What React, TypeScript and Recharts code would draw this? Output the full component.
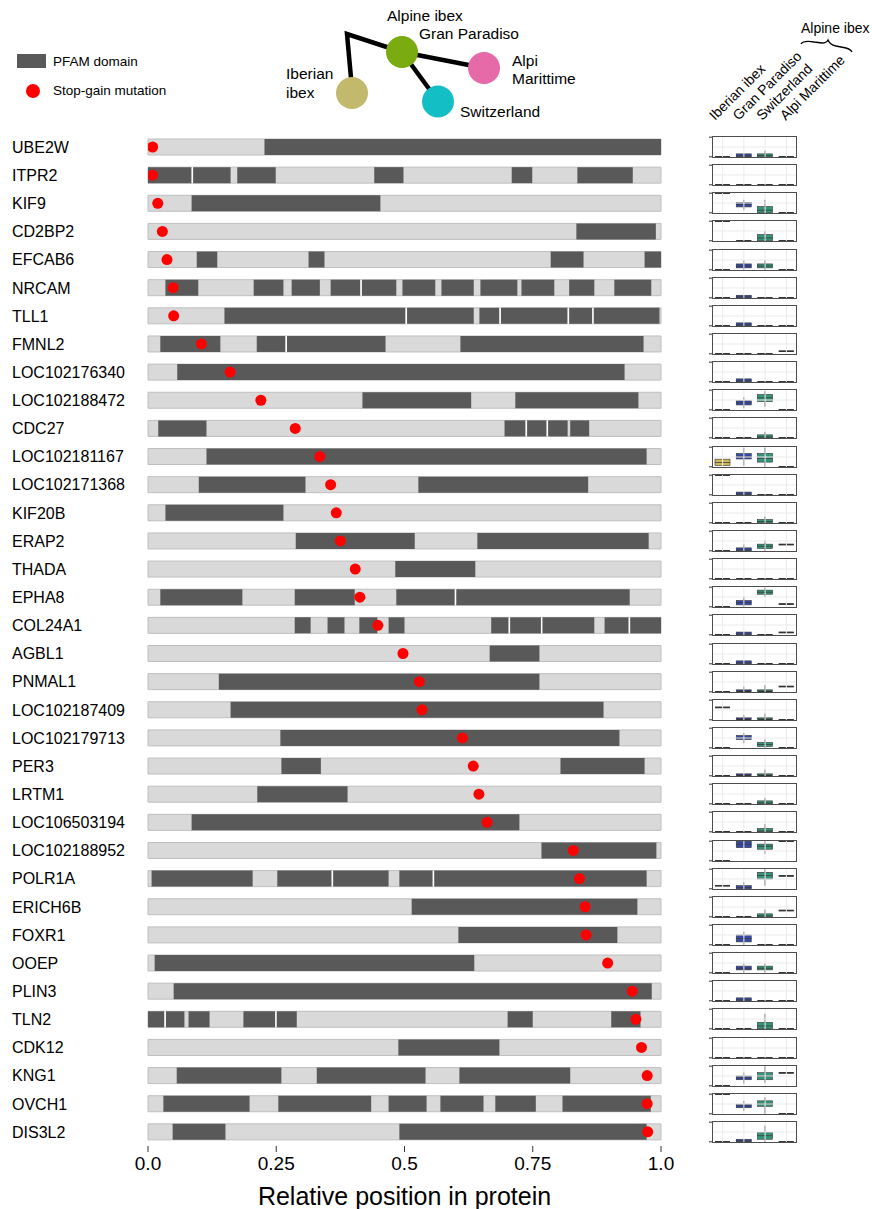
import React from 'react';
import { ComposedChart, Bar, XAxis, YAxis, Cell, ReferenceLine } from 'recharts';

const FONT = '"Liberation Sans", Arial, Helvetica, sans-serif';

// ---- data ----
const genes = [
  'UBE2W', 'ITPR2', 'KIF9', 'CD2BP2', 'EFCAB6', 'NRCAM', 'TLL1', 'FMNL2', 'LOC102176340',
  'LOC102188472', 'CDC27', 'LOC102181167', 'LOC102171368', 'KIF20B', 'ERAP2', 'THADA', 'EPHA8',
  'COL24A1', 'AGBL1', 'PNMAL1', 'LOC102187409', 'LOC102179713', 'PER3', 'LRTM1', 'LOC106503194',
  'LOC102188952', 'POLR1A', 'ERICH6B', 'FOXR1', 'OOEP', 'PLIN3', 'TLN2', 'CDK12', 'KNG1', 'OVCH1',
  'DIS3L2',
];

// relative position of the stop-gain mutation
const stopGain = [
  0.009, 0.009, 0.019, 0.028, 0.037, 0.049, 0.05, 0.104, 0.16, 0.22, 0.287, 0.335, 0.356, 0.367,
  0.375, 0.404, 0.413, 0.448, 0.497, 0.529, 0.534, 0.613, 0.634, 0.645, 0.661, 0.829, 0.841, 0.852,
  0.854, 0.896, 0.944, 0.951, 0.962, 0.973, 0.973, 0.974,
];

// PFAM domains [start, end] in relative protein coordinates
const pfamDomains: number[][][] = [
  [[0.227, 1.0]],
  [[0, 0.085], [0.088, 0.161], [0.174, 0.249], [0.441, 0.498], [0.709, 0.749], [0.837, 0.945]],
  [[0.085, 0.453]],
  [[0.835, 0.99]],
  [[0.095, 0.135], [0.313, 0.344], [0.785, 0.849], [0.968, 1.0]],
  [[0.034, 0.098], [0.206, 0.264], [0.28, 0.335], [0.356, 0.414], [0.417, 0.484], [0.496, 0.56],
    [0.572, 0.635], [0.648, 0.72], [0.728, 0.792], [0.821, 0.87], [0.909, 0.981]],
  [[0.149, 0.502], [0.505, 0.635], [0.646, 0.685], [0.688, 0.818], [0.821, 0.866], [0.869, 0.997]],
  [[0.024, 0.141], [0.212, 0.268], [0.271, 0.463], [0.609, 0.966]],
  [[0.057, 0.929]],
  [[0.418, 0.63], [0.716, 0.956]],
  [[0.02, 0.114], [0.695, 0.736], [0.739, 0.777], [0.78, 0.818], [0.823, 0.86]],
  [[0.114, 0.972]],
  [[0.099, 0.307], [0.527, 0.858]],
  [[0.034, 0.264]],
  [[0.288, 0.52], [0.642, 0.976]],
  [[0.482, 0.638]],
  [[0.024, 0.184], [0.286, 0.403], [0.484, 0.598], [0.601, 0.939]],
  [[0.286, 0.317], [0.35, 0.383], [0.412, 0.447], [0.469, 0.5], [0.669, 0.703], [0.706, 0.766],
    [0.769, 0.87], [0.89, 0.937], [0.94, 1.0]],
  [[0.666, 0.763]],
  [[0.138, 0.763]],
  [[0.161, 0.888]],
  [[0.258, 0.919]],
  [[0.26, 0.337], [0.804, 0.968]],
  [[0.213, 0.389]],
  [[0.085, 0.724]],
  [[0.767, 0.991]],
  [[0.007, 0.204], [0.252, 0.358], [0.361, 0.469], [0.49, 0.555], [0.558, 0.972]],
  [[0.514, 0.954]],
  [[0.605, 0.915]],
  [[0.013, 0.636]],
  [[0.05, 0.982]],
  [[0, 0.032], [0.035, 0.071], [0.079, 0.12], [0.186, 0.248], [0.251, 0.29], [0.701, 0.75],
    [0.903, 0.96]],
  [[0.488, 0.685]],
  [[0.056, 0.26], [0.329, 0.541], [0.607, 0.823]],
  [[0.03, 0.198], [0.254, 0.435], [0.469, 0.543], [0.57, 0.654], [0.677, 0.756], [0.808, 0.98]],
  [[0.048, 0.151], [0.49, 0.972]],
];

const populations = ['Iberian ibex', 'Gran Paradiso', 'Switzerland', 'Alpi Marittime'];

// per gene: single value, or [min, q1, median, q3, max]
type Stat = number | number[];
const iberianIbex: Stat[] = [
  0, 0, 1, 1, 0, 0, 0, 0, 0, 0, 0, [0.07, 0.07, 0.22, 0.39, 0.39], 1, 0, 0, 0, 0, 0, 0, 0, 0.63,
  0, 0, 0, 0, 0, 0.16, 0, 0, 0, 0, 0, 0, 0, 1, 0,
];
const granParadiso: Stat[] = [
  [0, 0, 0.05, 0.15, 0.15], 0, [0.15, 0.3, 0.42, 0.52, 0.66], 0, [0, 0.1, 0.2, 0.3, 0.49],
  [0, 0, 0.05, 0.13, 0.13], [0, 0, 0.05, 0.15, 0.15], 0, [0, 0, 0.05, 0.15, 0.15],
  [0.08, 0.25, 0.36, 0.46, 0.64], 0, [0.05, 0.4, 0.54, 0.68, 0.97], [0, 0, 0.05, 0.14, 0.14], 0,
  [0, 0, 0.05, 0.15, 0.32], 0, [0, 0.1, 0.22, 0.32, 0.51], [0, 0, 0.05, 0.14, 0.14],
  [0, 0, 0.05, 0.15, 0.15], [0, 0, 0.04, 0.1, 0.27], [0, 0, 0.04, 0.1, 0.25],
  [0.24, 0.42, 0.53, 0.63, 0.75], [0, 0, 0.04, 0.1, 0.1], 0, 0, [0.67, 0.67, 0.85, 1, 1],
  [0, 0, 0.06, 0.16, 0.34], 0, [0, 0.15, 0.32, 0.5, 0.66], [0, 0.15, 0.24, 0.34, 0.48],
  [0, 0, 0.05, 0.15, 0.15], 0, 0, [0.11, 0.31, 0.41, 0.5, 0.67], [0.15, 0.31, 0.41, 0.49, 0.66],
  [0, 0, 0.05, 0.13, 0.13],
];
const switzerland: Stat[] = [
  [0, 0, 0.07, 0.15, 0.3], 0, [0, 0, 0.14, 0.32, 0.66], [0, 0, 0.15, 0.32, 0.5],
  [0, 0.1, 0.2, 0.3, 0.49], 0, 0, 0, 0, [0.15, 0.42, 0.61, 0.78, 0.95], [0, 0, 0.05, 0.15, 0.3],
  [0, 0.24, 0.44, 0.68, 0.98], 0, [0, 0, 0.07, 0.17, 0.32], [0, 0.12, 0.24, 0.34, 0.53], 0,
  [0.51, 0.64, 0.75, 0.85, 0.98], 0, 0, [0, 0, 0.04, 0.1, 0.34], [0, 0, 0.04, 0.1, 0.32],
  [0, 0.07, 0.17, 0.27, 0.44], [0, 0, 0.04, 0.1, 0.32], [0, 0, 0.05, 0.15, 0.3],
  [0, 0, 0.05, 0.17, 0.4], [0.36, 0.59, 0.75, 0.85, 1], [0.16, 0.5, 0.68, 0.84, 1],
  [0, 0, 0.05, 0.15, 0.37], 0, [0, 0.15, 0.24, 0.34, 0.48], 0, [0, 0, 0.15, 0.33, 0.77], 0,
  [0.15, 0.31, 0.49, 0.67, 1], [0, 0.38, 0.51, 0.66, 0.84], [0, 0.13, 0.31, 0.48, 0.82],
];
const alpiMarittime: Stat[] = [
  0, 0, 0, 0, 0, 0, 0, 0.13, 0, 0, 0, 0, 0, 0, 0.32, 0, 0.14, 0.12, 0, 0.27, 0, 0, 0, 0, 0, 1,
  0.66, 0.32, 0, 0, 0, 0, 0, 0.66, 0, 0,
];
const popStats = [iberianIbex, granParadiso, switzerland, alpiMarittime];

const xTicks = [0, 0.25, 0.5, 0.75, 1];

// ---- styles / layout ----
const DOMAIN_FILL = '#595959';
const PROTEIN_FILL = '#d9d9d9';
const PROTEIN_EDGE = '#bfbfbf';
const STOP_RED = '#ff0000';
const BOX_COLORS = ['#cdb95a', '#3549a8', '#35947a', '#555555'];
const LINE_DARK = '#333333';

const W = 872;
const H = 1209;
const MAIN_W = 680;
const X_AXIS_H = 63;
const Y_AXIS_W = 140;
const MAIN_MARGIN = { top: 133, right: 19, bottom: 0, left: 8 };
const ROW_H = (H - MAIN_MARGIN.top - MAIN_MARGIN.bottom - X_AXIS_H) / genes.length;
const PANEL_X = 712;
const PANEL_W = 85;
const PANEL_H = 22;

// build stacked segments: gaps (transparent / white separator) and domains
type Seg = { len: number; kind: 'gap' | 'sep' | 'dom' };
const segments: Seg[][] = pfamDomains.map((doms) => {
  const out: Seg[] = [];
  let pos = 0;
  doms.forEach(([a, b]) => {
    if (a > pos) out.push({ len: a - pos, kind: a - pos < 0.0045 ? 'sep' : 'gap' });
    out.push({ len: b - a, kind: 'dom' });
    pos = b;
  });
  return out;
});
const segCount = Math.max(...segments.map((s) => s.length));
const segKeys = Array.from({ length: segCount }, (_, k) => `s${k}`);

const rows = genes.map((gene, i) => {
  const r: Record<string, number | string> = { gene, stop: stopGain[i] };
  segKeys.forEach((k, si) => {
    r[k] = segments[i][si] ? segments[i][si].len : 0;
  });
  return r;
});

const segFill = (gi: number, si: number) => {
  const s = segments[gi][si];
  if (!s) return 'none';
  if (s.kind === 'dom') return DOMAIN_FILL;
  if (s.kind === 'sep') return '#ffffff';
  return 'none';
};

const toStats = (s: Stat) => (typeof s === 'number' ? [s, s, s, s, s] : s);

// ---- shapes ----
const StopDot = (p: any) => (
  <circle cx={p.x + p.width} cy={p.y + p.height / 2} r={5.5} fill={STOP_RED} />
);

const Whisker = (p: any) => {
  if (!(p.height > 0)) return null;
  const cx = p.x + p.width / 2;
  return <line x1={cx} x2={cx} y1={p.y} y2={p.y + p.height} stroke={LINE_DARK} strokeWidth={1} />;
};

const BoxPart = (p: any) => {
  if (!(p.height > 0.8)) {
    const y = p.y + (p.height > 0 ? p.height / 2 : 0);
    return <rect x={p.x} y={y - 0.7} width={p.width} height={1.4} fill={LINE_DARK} />;
  }
  return (
    <rect x={p.x} y={p.y} width={p.width} height={p.height} fill={BOX_COLORS[p.index]}
      stroke={LINE_DARK} strokeWidth={0.6} />
  );
};

const GeneTick = (p: any) => (
  <text x={12} y={p.y} dy="0.36em" fontSize={16} fill="#000" textAnchor="start">
    {p.payload.value}
  </text>
);

const fmtX = (v: number) => (v === 0 ? '0.0' : v === 1 ? '1.0' : String(v));

function BoxPanel({ gi }: { gi: number }) {
  const data = populations.map((pop, k) => {
    const [lo, q1, med, q3, hi] = toStats(popStats[k][gi]);
    return { pop, lo, w1: q1 - lo, b1: med - q1, b2: q3 - med, w2: hi - q3 };
  });
  const top = MAIN_MARGIN.top + (gi + 0.5) * ROW_H - PANEL_H / 2;
  return (
    <>
      <div style={{ position: 'absolute', left: PANEL_X - 4, top }}>
        <ComposedChart width={PANEL_W + 4} height={PANEL_H} data={data}
          margin={{ top: 0, right: 0, bottom: 0, left: 0 }} barSize={15}>
          <XAxis dataKey="pop" type="category" hide />
          <YAxis type="number" domain={[-0.06, 1.06]} ticks={[0, 1]} tickFormatter={() => ''}
            width={4} tickSize={3} axisLine={false} tickLine={{ stroke: LINE_DARK }} />
          {populations.map((p) => (
            <ReferenceLine key={p} x={p} stroke="#ebebeb" />
          ))}
          <ReferenceLine y={0.5} stroke="#ebebeb" />
          <Bar dataKey="lo" stackId="b" fill="none" isAnimationActive={false} />
          <Bar dataKey="w1" stackId="b" shape={Whisker} isAnimationActive={false} />
          <Bar dataKey="b1" stackId="b" shape={BoxPart} isAnimationActive={false} />
          <Bar dataKey="b2" stackId="b" shape={BoxPart} isAnimationActive={false} />
          <Bar dataKey="w2" stackId="b" shape={Whisker} isAnimationActive={false} />
        </ComposedChart>
      </div>
      <div style={{
        position: 'absolute', left: PANEL_X, top, width: PANEL_W, height: PANEL_H,
        border: '1px solid #4d4d4d', boxSizing: 'border-box', pointerEvents: 'none',
      }} />
    </>
  );
}

const Header = () => (
  <svg width={W} height={130} style={{ position: 'absolute', left: 0, top: 0 }}>
    {/* legend */}
    <rect x={17} y={54} width={29} height={14} fill={DOMAIN_FILL} />
    <text x={53} y={66} fontSize={13.5} fill="#000">PFAM domain</text>
    <circle cx={33} cy={91} r={7} fill={STOP_RED} />
    <text x={53} y={95} fontSize={13.5} fill="#000">Stop-gain mutation</text>
    {/* population tree */}
    <g stroke="#000" strokeWidth={4.5} fill="none">
      <polyline points="351,78 347,34 402,52" strokeLinejoin="miter" />
      <line x1={402} y1={52} x2={484} y2={68} />
      <line x1={402} y1={52} x2={438} y2={101} />
    </g>
    <circle cx={352} cy={93} r={16} fill="#c2b96c" />
    <circle cx={402} cy={52} r={16} fill="#7aac12" />
    <circle cx={484} cy={68} r={16} fill="#e66aa8" />
    <circle cx={438} cy={101.5} r={16} fill="#13bfc4" />
    <g fontSize={15.5} fill="#000">
      <text x={387} y={21}>Alpine ibex</text>
      <text x={419} y={39}>Gran Paradiso</text>
      <text x={286} y={79}>Iberian</text>
      <text x={286} y={98}>ibex</text>
      <text x={512} y={66}>Alpi</text>
      <text x={512} y={84}>Marittime</text>
      <text x={460} y={117}>Switzerland</text>
    </g>
    {/* boxplot column labels */}
    {populations.map((p, k) => (
      <text key={p} fontSize={14} fill="#000"
        transform={`translate(${715 + k * 23.6},121) rotate(-45)`}>
        {p}
      </text>
    ))}
    <text x={801} y={33} fontSize={14} fill="#000">Alpine ibex</text>
    <path d="M801,44 C803,41 808,41 814,42 L822,43 C825,43 827,42 828,40 C829,43 832,45 836,46 L846,48 C850,49 851,50 852,52"
      stroke="#000" strokeWidth={1.3} fill="none" />
  </svg>
);

export default function App() {
  return (
    <div style={{ position: 'absolute', left: 0, top: 0, width: W, height: H, background: '#fff', fontFamily: FONT }}>
      <div style={{ position: 'absolute', left: 0, top: 0 }}>
        <ComposedChart layout="vertical" width={MAIN_W} height={H} data={rows} margin={MAIN_MARGIN}
          barSize={16} barGap={-16}>
          <XAxis type="number" domain={[0, 1]} ticks={xTicks} tickFormatter={fmtX} allowDataOverflow
            axisLine={false} tickLine={{ stroke: LINE_DARK }} tickSize={6} tickMargin={5}
            tick={{ fontSize: 19, fill: '#000' }} height={X_AXIS_H}
            label={{ value: 'Relative position in protein', position: 'insideBottom', offset: 4, fontSize: 25, fill: '#000' }} />
          <YAxis type="category" dataKey="gene" width={Y_AXIS_W} axisLine={false} tickLine={false}
            tick={GeneTick} interval={0} />
          {segKeys.map((k, si) => (
            <Bar key={k} dataKey={k} stackId="protein" isAnimationActive={false}
              background={si === 0 ? { fill: PROTEIN_FILL, stroke: PROTEIN_EDGE, strokeWidth: 1 } : false}>
              {rows.map((_, gi) => (
                <Cell key={gi} fill={segFill(gi, si)} />
              ))}
            </Bar>
          ))}
          <Bar dataKey="stop" isAnimationActive={false} shape={StopDot} />
        </ComposedChart>
      </div>
      {genes.map((g, gi) => (
        <BoxPanel key={g} gi={gi} />
      ))}
      <Header />
    </div>
  );
}
